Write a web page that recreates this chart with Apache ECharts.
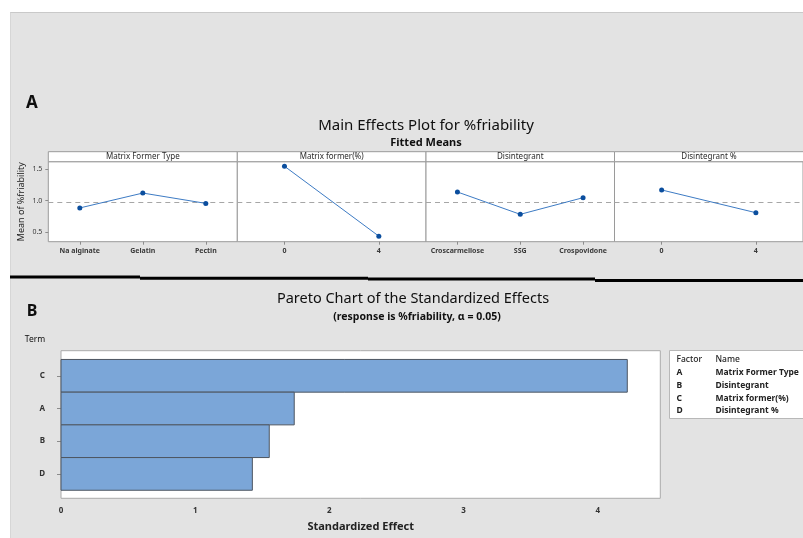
<!DOCTYPE html>
<html>
<head>
<meta charset="utf-8">
<script src="https://cdn.jsdelivr.net/npm/echarts@6/dist/echarts.min.js"></script>
<style>
  html, body { margin: 0; padding: 0; background: #ffffff; }
  #wrap { position: relative; width: 803px; height: 538px; overflow: hidden; }
  #panel { position: absolute; left: 10px; top: 12px; width: 800px; height: 530px;
           background: #e3e3e3; border-top: 1px solid #c9c9c9; border-left: 1px solid #d6d6d6; }
  #chart { position: absolute; left: 0; top: 0; width: 803px; height: 538px; }
</style>
</head>
<body>
<div id="wrap">
  <div id="panel"></div>
  <div id="chart"></div>
</div>
<script>
// ---- Main effects (fitted means of %friability) ----
const matrixTypeCats = ['Na alginate', 'Gelatin', 'Pectin'];
const matrixTypeMeans = [0.885, 1.12, 0.957];
const matrixPctCats = ['0', '4'];
const matrixPctMeans = [1.543, 0.44];
const disintCats = ['Croscarmellose', 'SSG', 'Crospovidone'];
const disintMeans = [1.137, 0.784, 1.047];
const disintPctCats = ['0', '4'];
const disintPctMeans = [1.169, 0.81];
const grandMean = 0.985;
const meanTicks = [0.5, 1.0, 1.5];
const panelTitles = ['Matrix Former Type', 'Matrix former(%)', 'Disintegrant', 'Disintegrant %'];

// ---- Pareto of standardized effects ----
const terms = ['C', 'A', 'B', 'D'];
const effects = [4.22, 1.738, 1.552, 1.426];
const effectTicks = [0, 1, 2, 3, 4];
const factorLetters = ['A', 'B', 'C', 'D'];
const factorNames = ['Matrix Former Type', 'Disintegrant', 'Matrix former(%)', 'Disintegrant %'];

const FONT = 'Noto Sans';
const chart = echarts.init(document.getElementById('chart'), null, { renderer: 'canvas' });

const panelCats = [matrixTypeCats, matrixPctCats, disintCats, disintPctCats];
const panelMeans = [matrixTypeMeans, matrixPctMeans, disintMeans, disintPctMeans];
const edges = [48.3, 237.3, 426, 614.5, 803.5];
const meTop = 161.7, meHeight = 80;

const grids = [], xAxes = [], yAxes = [], series = [], graphics = [];

for (let i = 0; i < 4; i++) {
  grids.push({
    left: edges[i], top: meTop, width: edges[i + 1] - edges[i], height: meHeight,
    show: true, backgroundColor: '#ffffff', borderColor: '#9a9a9a', borderWidth: 1
  });
  xAxes.push({
    type: 'category', gridIndex: i, data: panelCats[i], boundaryGap: true,
    axisLine: { show: false },
    axisTick: { show: true, alignWithLabel: true, interval: 0, length: 3, lineStyle: { color: '#8c8c8c' } },
    axisLabel: { interval: 0, hideOverlap: false, fontFamily: FONT, fontSize: 7, fontWeight: 'bold', color: '#3a3a3a', margin: 6 },
    splitLine: { show: false }
  });
  yAxes.push({
    type: 'value', gridIndex: i, min: 0.352, max: 1.615,
    axisLine: { show: false },
    axisTick: { show: i === 0, length: 3, customValues: meanTicks, lineStyle: { color: '#8c8c8c' } },
    axisLabel: {
      show: i === 0, customValues: meanTicks, fontFamily: FONT, fontSize: 7, color: '#3a3a3a', margin: 6,
      formatter: v => v.toFixed(1)
    },
    splitLine: { show: false },
    name: i === 0 ? 'Mean of %friability' : '',
    nameLocation: 'middle', nameRotate: 90, nameGap: 22,
    nameTextStyle: { fontFamily: FONT, fontSize: 9, color: '#222' }
  });
  series.push({
    type: 'line', xAxisIndex: i, yAxisIndex: i, data: panelMeans[i],
    symbol: 'circle', symbolSize: 5,
    itemStyle: { color: '#0b4e9e' },
    lineStyle: { color: '#3d7bc4', width: 1 },
    markLine: {
      silent: true, symbol: 'none', label: { show: false },
      lineStyle: { type: [5, 4], color: '#a6a6a6', width: 1 },
      data: [{ yAxis: grandMean }]
    },
    z: 5
  });
  // header strip above each panel
  graphics.push({
    type: 'rect', shape: { x: edges[i], y: 151.7, width: edges[i + 1] - edges[i], height: 10 },
    style: { fill: '#ffffff', stroke: '#9a9a9a', lineWidth: 1 }
  });
  graphics.push({
    type: 'text', x: (edges[i] + edges[i + 1]) / 2, y: 157,
    style: { text: panelTitles[i], font: '8px "Noto Sans"', fill: '#2a2a2a', align: 'center', verticalAlign: 'middle' }
  });
}

// Pareto grid
grids.push({
  left: 61, top: 350.7, width: 599.3, height: 147.6,
  show: true, backgroundColor: '#ffffff', borderColor: '#aaaaaa', borderWidth: 1
});
xAxes.push({
  type: 'value', gridIndex: 4, min: 0, max: 4.466,
  axisLine: { show: false },
  axisTick: { show: true, length: 4, customValues: effectTicks, lineStyle: { color: '#8c8c8c' } },
  axisLabel: { customValues: effectTicks, fontFamily: FONT, fontSize: 8, fontWeight: 'bold', color: '#333', margin: 8 },
  splitLine: { show: false },
  name: 'Standardized Effect', nameLocation: 'middle', nameGap: 23,
  nameTextStyle: { fontFamily: FONT, fontSize: 11, fontWeight: 'bold', color: '#222' }
});
yAxes.push({
  type: 'value', gridIndex: 4, inverse: true, min: -0.768, max: 3.746,
  axisLine: { show: false },
  axisTick: { show: true, length: 4, customValues: [0, 1, 2, 3], lineStyle: { color: '#8c8c8c' } },
  axisLabel: {
    customValues: [0, 1, 2, 3], fontFamily: FONT, fontSize: 8, fontWeight: 'bold', color: '#333', margin: 16,
    formatter: v => terms[Math.round(v)]
  },
  splitLine: { show: false }
});
series.push({
  type: 'custom', xAxisIndex: 4, yAxisIndex: 4,
  data: effects.map((v, idx) => [v, idx]),
  encode: { x: 0, y: 1 },
  renderItem: function (params, api) {
    const v = api.value(0), idx = api.value(1);
    const p0 = api.coord([0, idx]);
    const p1 = api.coord([v, idx]);
    const h = api.size([0, 1])[1];
    return {
      type: 'rect',
      shape: { x: p0[0], y: p0[1] - h / 2, width: p1[0] - p0[0], height: h },
      style: { fill: '#7ba6d8', stroke: '#4d5560', lineWidth: 1 }
    };
  },
  z: 5
});

// Section separator
const sep = [[10, 140, 277], [140, 368, 278.2], [368, 595, 279], [595, 803, 280.5]];
sep.forEach(s => graphics.push({
  type: 'line', shape: { x1: s[0], y1: s[2], x2: s[1], y2: s[2] },
  style: { stroke: '#000000', lineWidth: 3 }
}));

// Titles and labels
const texts = [
  { t: 'A', x: 32, y: 103.5, f: 'bold 17px "Noto Sans"', a: 'center' },
  { t: 'Main Effects Plot for %friability', x: 426, y: 125.5, f: '15px "Noto Sans"', a: 'center' },
  { t: 'Fitted Means', x: 426, y: 143, f: 'bold 11px "Noto Sans"', a: 'center' },
  { t: 'B', x: 32, y: 311.5, f: 'bold 16px "Noto Sans"', a: 'center' },
  { t: 'Pareto Chart of the Standardized Effects', x: 413, y: 298.5, f: '14.5px "Noto Sans"', a: 'center' },
  { t: '(response is %friability, \u03b1 = 0.05)', x: 417, y: 317.5, f: 'bold 10.5px "Noto Sans"', a: 'center' },
  { t: 'Term', x: 35, y: 340, f: '8.5px "Noto Sans"', a: 'center' }
];
texts.forEach(o => graphics.push({
  type: 'text', x: o.x, y: o.y,
  style: { text: o.t, font: o.f, fill: '#0f0f0f', align: o.a, verticalAlign: 'middle' }
}));

// Factor legend box
graphics.push({
  type: 'rect', shape: { x: 669.5, y: 350.5, width: 150, height: 68 },
  style: { fill: '#ffffff', stroke: '#b8b8b8', lineWidth: 1 }
});
graphics.push({
  type: 'text', x: 676.5, y: 360,
  style: { text: 'Factor', font: '500 8.5px "Noto Sans"', fill: '#222', align: 'left', verticalAlign: 'middle' }
});
graphics.push({
  type: 'text', x: 715.5, y: 360,
  style: { text: 'Name', font: '500 8.5px "Noto Sans"', fill: '#222', align: 'left', verticalAlign: 'middle' }
});
factorLetters.forEach((L, k) => {
  const yy = 372.7 + k * 12.7;
  graphics.push({
    type: 'text', x: 676.5, y: yy,
    style: { text: L, font: 'bold 8.5px "Noto Sans"', fill: '#222', align: 'left', verticalAlign: 'middle' }
  });
  graphics.push({
    type: 'text', x: 715.5, y: yy,
    style: { text: factorNames[k], font: 'bold 8.5px "Noto Sans"', fill: '#222', align: 'left', verticalAlign: 'middle' }
  });
});

chart.setOption({
  backgroundColor: 'transparent',
  animation: false,
  grid: grids,
  xAxis: xAxes,
  yAxis: yAxes,
  series: series,
  graphic: { elements: graphics }
});
</script>
</body>
</html>
